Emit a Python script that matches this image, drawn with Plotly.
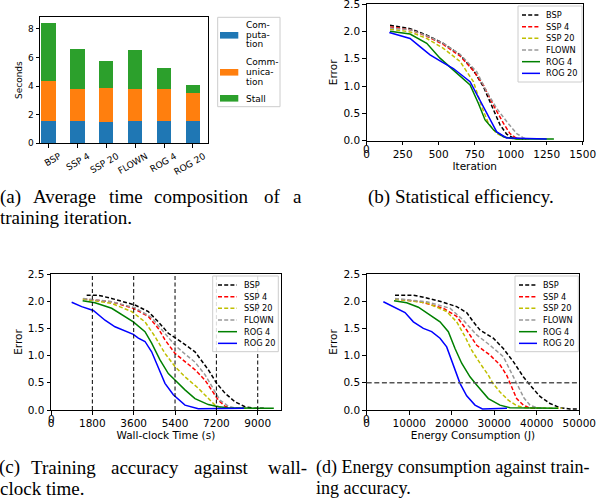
import plotly.graph_objects as go

W, H = 606, 503

# ---------------- (a) time composition ----------------
strategies = ["BSP", "SSP 4", "SSP 20", "FLOWN", "ROG 4", "ROG 20"]
computation = [1.58, 1.58, 1.52, 1.58, 1.58, 1.58]
communication = [2.77, 2.18, 2.34, 2.18, 2.18, 1.90]
stall = [4.07, 2.83, 1.88, 2.76, 1.49, 0.57]
bar_names = ["Computation", "Communication", "Stall"]
bar_legend_lines = [["Com-", "puta-", "tion"], ["Comm-", "unica-", "tion"], ["Stall"]]
bar_colors = ["#1f77b4", "#ff7f0e", "#2ca02c"]

# ---------------- line series ----------------
series_names = ["BSP", "SSP 4", "SSP 20", "FLOWN", "ROG 4", "ROG 20"]
series_colors = ["#000000", "#ff0000", "#bfbf00", "#999999", "#008000", "#0000ff"]
series_dashed = [True, True, True, True, False, False]

# (b) error vs iteration
it_bsp = [162, 301, 417, 532, 648, 741, 810, 880, 926, 972, 1018, 1088]
er_it_bsp = [2.11, 2.05, 1.93, 1.78, 1.57, 1.29, 0.99, 0.56, 0.29, 0.12, 0.05, 0.03]
it_ssp4 = [162, 301, 417, 532, 648, 741, 810, 880, 949, 995, 1042, 1110]
er_it_ssp4 = [2.08, 2.03, 1.91, 1.76, 1.55, 1.28, 1.02, 0.65, 0.32, 0.13, 0.04, 0.03]
it_ssp20 = [162, 301, 417, 532, 648, 741, 799, 845, 903, 972, 1050]
er_it_ssp20 = [2.04, 1.99, 1.87, 1.69, 1.45, 1.08, 0.62, 0.32, 0.13, 0.05, 0.03]
it_flown = [162, 301, 417, 532, 648, 764, 833, 903, 972, 1042, 1088, 1130]
er_it_flown = [2.06, 2.03, 1.92, 1.78, 1.58, 1.26, 0.90, 0.59, 0.35, 0.13, 0.05, 0.03]
it_rog4 = [162, 301, 417, 509, 602, 718, 776, 822, 880, 949, 1042, 1300]
er_it_rog4 = [2.00, 1.95, 1.78, 1.51, 1.29, 1.02, 0.68, 0.38, 0.20, 0.07, 0.03, 0.03]
it_rog20 = [157, 301, 370, 440, 521, 602, 718, 787, 857, 903, 972, 1250]
er_it_rog20 = [1.98, 1.87, 1.72, 1.57, 1.44, 1.32, 1.08, 0.74, 0.38, 0.16, 0.05, 0.03]

# (c) error vs wall-clock time (s)
t_bsp = [1553, 2060, 2641, 3657, 4237, 4672, 5108, 5543, 6268, 6849, 7212, 7574, 8010, 8445, 8880, 9300]
er_t_bsp = [2.11, 2.11, 2.05, 1.93, 1.81, 1.62, 1.41, 1.29, 1.07, 0.74, 0.49, 0.31, 0.15, 0.06, 0.03, 0.03]
t_ssp4 = [1407, 2641, 3584, 4237, 4672, 4962, 5398, 5833, 6268, 6703, 6994, 7284, 7574, 7864, 8400]
er_t_ssp4 = [2.04, 1.99, 1.87, 1.72, 1.50, 1.29, 1.04, 0.89, 0.74, 0.55, 0.37, 0.18, 0.07, 0.03, 0.03]
t_ssp20 = [1378, 2641, 3512, 4092, 4527, 4962, 5398, 5833, 6413, 6849, 7139, 7429, 8000]
er_t_ssp20 = [2.04, 1.96, 1.81, 1.62, 1.35, 1.04, 0.80, 0.61, 0.40, 0.21, 0.09, 0.04, 0.03]
t_flown = [1407, 2641, 3657, 4382, 4817, 5400, 5833, 6268, 6703, 7066, 7357, 7719, 8082, 8500]
er_t_flown = [2.05, 1.99, 1.88, 1.70, 1.48, 1.19, 1.03, 0.88, 0.65, 0.40, 0.18, 0.07, 0.03, 0.03]
t_rog4 = [1378, 1915, 2641, 3221, 3584, 4092, 4382, 4745, 5108, 5398, 5833, 6268, 6849, 7284, 7719, 9700]
er_t_rog4 = [2.01, 1.97, 1.87, 1.72, 1.62, 1.44, 1.23, 0.92, 0.67, 0.55, 0.37, 0.21, 0.10, 0.06, 0.04, 0.03]
t_rog20 = [900, 1335, 1843, 2351, 2786, 3221, 3584, 3802, 4092, 4382, 4672, 4962, 5325, 5833, 6413, 8400]
er_t_rog20 = [1.98, 1.90, 1.83, 1.65, 1.53, 1.45, 1.39, 1.32, 1.26, 1.07, 0.77, 0.49, 0.28, 0.09, 0.025, 0.03]
time_marks = [1800, 3600, 5400, 7200, 9000]

# (d) error vs energy consumption (J)
e_bsp = [6661, 10972, 14107, 18025, 21160, 23511, 25078, 26646, 29780, 32131, 34482, 36833, 38400, 40751, 43102, 45453, 47804, 50000]
er_e_bsp = [2.11, 2.11, 2.06, 1.98, 1.90, 1.79, 1.62, 1.47, 1.32, 1.13, 0.89, 0.61, 0.46, 0.25, 0.12, 0.04, 0.02, 0.02]
e_ssp4 = [6661, 12539, 18025, 21160, 23511, 25862, 28997, 31348, 32915, 34090, 35266, 36833, 38400, 41000]
er_e_ssp4 = [2.04, 1.99, 1.87, 1.72, 1.47, 1.19, 1.01, 0.83, 0.64, 0.43, 0.21, 0.09, 0.03, 0.03]
e_ssp20 = [6661, 14107, 18809, 21160, 23120, 24690, 26650, 28600, 29600, 31350, 33300, 35250, 37200, 46000]
er_e_ssp20 = [2.04, 1.97, 1.81, 1.62, 1.35, 1.10, 0.86, 0.64, 0.50, 0.33, 0.18, 0.08, 0.04, 0.03]
e_flown = [6661, 14107, 19592, 22727, 25862, 28997, 32131, 34482, 35700, 37000, 38400, 40000, 42000]
er_e_flown = [2.05, 1.99, 1.87, 1.65, 1.38, 1.19, 0.98, 0.62, 0.42, 0.22, 0.09, 0.04, 0.03]
e_rog4 = [6426, 9404, 12147, 14890, 17241, 19200, 20768, 22335, 24295, 25862, 28605, 31348, 33699, 45000]
er_e_rog4 = [2.01, 1.97, 1.89, 1.75, 1.62, 1.44, 1.13, 0.86, 0.61, 0.46, 0.21, 0.09, 0.04, 0.03]
e_rog20 = [3919, 6270, 9013, 10972, 13323, 15282, 17241, 18809, 20376, 21943, 23511, 25470, 27213, 33000]
er_e_rog20 = [1.99, 1.90, 1.79, 1.62, 1.50, 1.44, 1.32, 1.16, 0.83, 0.49, 0.26, 0.09, 0.02, 0.03]
error_mark = 0.5

iter_x = [it_bsp, it_ssp4, it_ssp20, it_flown, it_rog4, it_rog20]
iter_y = [er_it_bsp, er_it_ssp4, er_it_ssp20, er_it_flown, er_it_rog4, er_it_rog20]
time_x = [t_bsp, t_ssp4, t_ssp20, t_flown, t_rog4, t_rog20]
time_y = [er_t_bsp, er_t_ssp4, er_t_ssp20, er_t_flown, er_t_rog4, er_t_rog20]
energy_x = [e_bsp, e_ssp4, e_ssp20, e_flown, e_rog4, e_rog20]
energy_y = [er_e_bsp, er_e_ssp4, er_e_ssp20, er_e_flown, er_e_rog4, er_e_rog20]

# captions (justified lines are placed word by word)
cap_a1 = ["(a)", "Average", "time", "composition", "of", "a"]
cap_a2 = "training iteration."
cap_b = "(b) Statistical efficiency."
cap_c1 = ["(c)", "Training", "accuracy", "against", "wall-"]
cap_c2 = "clock time."
cap_d1 = "(d) Energy consumption against train-"
cap_d2 = "ing accuracy."

# ---------------- helpers ----------------
def px(x):
    return x / W


def py(y):
    return 1 - y / H


def dom_x(l, r):
    return [l / W, r / W]


def dom_y(t, b):
    return [1 - b / H, 1 - t / H]


SANS = "DejaVu Sans"
SERIF = "Liberation Serif"


def axis_style(size):
    return dict(showline=True, linecolor="black", linewidth=1, mirror=True,
                ticks="outside", ticklen=3.5, tickwidth=0.8, tickcolor="black",
                showgrid=False, zeroline=False, automargin=False, ticklabeloverflow="allow",
                tickfont=dict(family=SANS, size=size, color="black"))


fig = go.Figure()

# bars (a)
for name, vals, col in zip(bar_names, [computation, communication, stall], bar_colors):
    fig.add_trace(go.Bar(x=strategies, y=vals, name=name, marker=dict(color=col, line=dict(width=0)),
                         width=0.5, xaxis="x", yaxis="y", showlegend=False))

# lines (b), (c), (d)
for ax, xs_all, ys_all in [("2", iter_x, iter_y), ("3", time_x, time_y), ("4", energy_x, energy_y)]:
    for name, col, dsh, xs, ys in zip(series_names, series_colors, series_dashed, xs_all, ys_all):
        fig.add_trace(go.Scatter(x=xs, y=ys, mode="lines", name=name,
                                 line=dict(color=col, width=1.5, dash="4px,2.2px" if dsh else "solid"),
                                 xaxis="x" + ax, yaxis="y" + ax, showlegend=False))

shapes = []
annotations = []

# reference lines
for t in time_marks:
    shapes.append(dict(type="line", xref="x3", yref="y3 domain", x0=t, x1=t, y0=0, y1=1,
                       line=dict(color="black", width=1, dash="4px,2.5px")))
shapes.append(dict(type="line", xref="x4 domain", yref="y4", x0=0, x1=1, y0=error_mark, y1=error_mark,
                   line=dict(color="#555555", width=1.6, dash="5px,2.6px")))

# the "0" tick label at the left end of each numeric x axis (plotly drops it at the corner)
for xr, ty in [("x2", 149.2), ("x3", 419.0), ("x4", 419.0)]:
    annotations.append(dict(text="0", xref=xr, yref="paper", x=0, y=py(ty), xanchor="center",
                            yanchor="middle", showarrow=False, borderpad=0,
                            font=dict(family=SANS, size=10.5, color="black")))


# manual legends for line plots
def line_legend(box, lx0, lx1, tx, row0, dy):
    bl, bt, br, bb = box
    shapes.append(dict(type="rect", xref="paper", yref="paper", x0=px(bl), x1=px(br), y0=py(bb), y1=py(bt),
                       fillcolor="rgba(255,255,255,0.85)", line=dict(color="#cccccc", width=1), layer="above"))
    for k, (name, col, dsh) in enumerate(zip(series_names, series_colors, series_dashed)):
        yy = row0 + k * dy
        shapes.append(dict(type="line", xref="paper", yref="paper", x0=px(lx0), x1=px(lx1), y0=py(yy), y1=py(yy),
                           line=dict(color=col, width=1.5, dash="4px,2.2px" if dsh else "solid"), layer="above"))
        annotations.append(dict(text=name, xref="paper", yref="paper", x=px(tx), y=py(yy), xanchor="left",
                                yanchor="middle", showarrow=False, borderpad=0,
                                font=dict(family=SANS, size=8.2, color="black")))


line_legend((518, 6, 582, 82), 522, 540, 545, 15, 11.67)
line_legend((212.7, 276, 278.3, 351.7), 218, 237, 243, 285, 11.67)
line_legend((515, 276, 578.3, 351.7), 519, 537, 541.7, 285, 11.67)

# legend for (a)
shapes.append(dict(type="rect", xref="paper", yref="paper", x0=px(217.7), x1=px(280), y0=py(106.7), y1=py(17.3),
                   fillcolor="rgba(255,255,255,0.85)", line=dict(color="#cccccc", width=1), layer="above"))
patch_centers = [35.3, 72.3, 98.3]
text_rows = [[25.3, 34.8, 44.3], [62.5, 72.0, 81.5], [98.5]]
for col, lines, pc, rows in zip(bar_colors, bar_legend_lines, patch_centers, text_rows):
    shapes.append(dict(type="rect", xref="paper", yref="paper", x0=px(220), x1=px(238.3),
                       y0=py(pc + 3.3), y1=py(pc - 3.3), fillcolor=col, line=dict(width=0), layer="above"))
    for txt, ry in zip(lines, rows):
        annotations.append(dict(text=txt, xref="paper", yref="paper", x=px(244.5), y=py(ry), xanchor="left",
                                yanchor="middle", showarrow=False, borderpad=0,
                                font=dict(family=SANS, size=9, color="black")))


# captions
def cap(text, x, y, size=19):
    annotations.append(dict(text=text, xref="paper", yref="paper", x=px(x), y=py(y), xanchor="left",
                            yanchor="middle", showarrow=False, borderpad=0,
                            font=dict(family=SERIF, size=size, color="black")))


for w, x in zip(cap_a1, [-1, 32, 108, 153, 263, 292]):
    cap(w, x, 196.6)
cap(cap_a2, -1, 217.6)
cap(cap_b, 367, 196.6)
for w, x in zip(cap_c1, [-2, 30, 110, 193, 267]):
    cap(w, x, 467)
cap(cap_c2, -1, 488)
cap(cap_d1, 315, 467, 18)
cap(cap_d2, 315, 488, 18)

title_font_big = dict(family=SANS, size=10.5, color="black")
title_font_small = dict(family=SANS, size=9, color="black")

fig.update_layout(
    template="none",
    width=W, height=H, autosize=False,
    margin=dict(l=0, r=0, t=0, b=0, pad=0),
    font=dict(family=SANS, color="black"),
    paper_bgcolor="white", plot_bgcolor="white",
    barmode="stack", bargap=0,
    showlegend=False,
    xaxis=dict(domain=dom_x(40, 208), anchor="y", range=[-0.29, 5.52], tickangle=-30,
               ticklabelshift=11, **axis_style(9)),
    yaxis=dict(domain=dom_y(17, 143.3), anchor="x", range=[0, 8.82], tickvals=[0, 2, 4, 6, 8],
               title=dict(text="Seconds", font=title_font_small, standoff=3), **axis_style(9)),
    xaxis2=dict(domain=dom_x(366.7, 582.7), anchor="y2", range=[0, 1500],
                tickvals=[0, 250, 500, 750, 1000, 1250, 1500],
                title=dict(text="Iteration", font=title_font_big, standoff=1), **axis_style(10.5)),
    yaxis2=dict(domain=dom_y(4, 140.7), anchor="x2", range=[0, 2.5], tickvals=[0, 0.5, 1, 1.5, 2, 2.5],
                tickformat=".1f", title=dict(text="Error", font=title_font_big, standoff=3), **axis_style(10.5)),
    xaxis3=dict(domain=dom_x(51, 280.7), anchor="y3", range=[0, 10000], tickvals=[0, 1800, 3600, 5400, 7200, 9000],
                tickformat="d", title=dict(text="Wall-clock Time (s)", font=title_font_big, standoff=1),
                **axis_style(10.5)),
    yaxis3=dict(domain=dom_y(274, 410), anchor="x3", range=[0, 2.5], tickvals=[0, 0.5, 1, 1.5, 2, 2.5],
                tickformat=".1f", title=dict(text="Error", font=title_font_big, standoff=3), **axis_style(10.5)),
    xaxis4=dict(domain=dom_x(366.7, 579.3), anchor="y4", range=[0, 50000],
                tickvals=[0, 10000, 20000, 30000, 40000, 50000], tickformat="d",
                title=dict(text="Energy Consumption (J)", font=title_font_big, standoff=1), **axis_style(10.5)),
    yaxis4=dict(domain=dom_y(274, 410), anchor="x4", range=[0, 2.5], tickvals=[0, 0.5, 1, 1.5, 2, 2.5],
                tickformat=".1f", title=dict(text="Error", font=title_font_big, standoff=3), **axis_style(10.5)),
    shapes=shapes,
    annotations=annotations,
)

page_fix = (
    "var de=document.documentElement, b=document.body;"
    "de.style.margin='0';de.style.padding='0';de.style.overflow='hidden';"
    "b.style.margin='0';b.style.padding='0';b.style.overflow='hidden';"
)
fig.write_html("out.html", config={"displayModeBar": False}, post_script=page_fix)
